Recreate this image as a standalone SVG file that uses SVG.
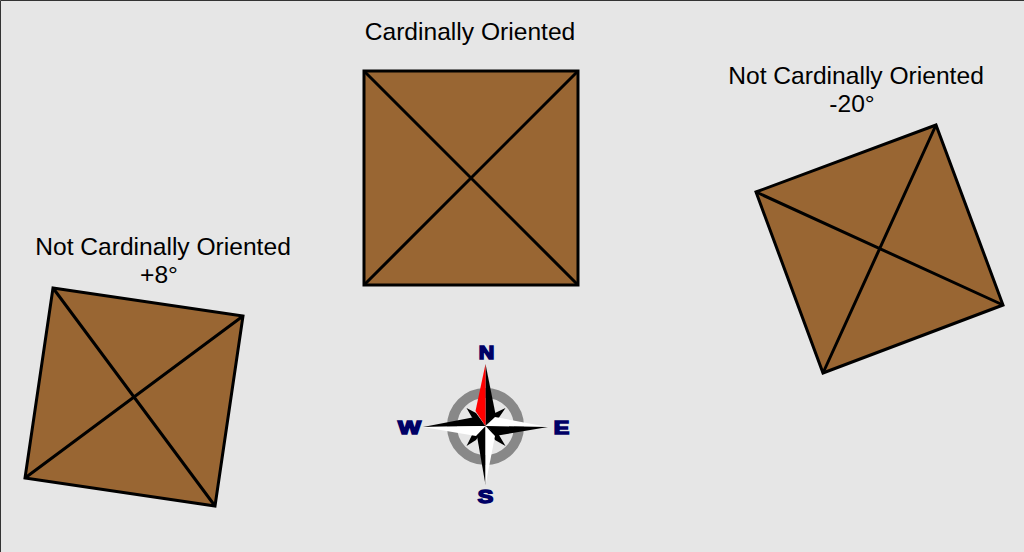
<svg xmlns="http://www.w3.org/2000/svg" width="1024" height="552" viewBox="0 0 1024 552">
<style>
.sq{fill:#996633;stroke:#000;stroke-width:3;stroke-linejoin:miter}
.d{stroke:#000;stroke-width:3;fill:none}
.t{font-family:"Liberation Sans",Arial,sans-serif;font-size:24.6px;fill:#000;text-anchor:middle}
.c{font-family:"Liberation Sans",Arial,sans-serif;font-size:18px;font-weight:bold;fill:#000066;text-anchor:middle;stroke:#000066;stroke-width:1.5}
</style>
<rect width="1024" height="552" fill="#e6e6e6"/>
<path d="M0.5 552V0.5H1024" fill="none" stroke="#333" stroke-width="1"/>
<g id="square-cardinal">
<path class="sq" d="M364 71H578V285H364Z"/>
<path class="d" d="M364 71L578 285M578 71L364 285"/>
<text class="t" x="470" y="40">Cardinally Oriented</text>
</g>
<g id="square-minus20">
<path class="sq" d="M756 192L936 125L1003 305L823 373Z"/>
<path class="d" d="M756 192L1003 305M936 125L823 373"/>
<text class="t" x="856" y="84">Not Cardinally Oriented</text>
<text class="t" x="852" y="112">-20°</text>
</g>
<g id="square-plus8">
<path class="sq" d="M53 288L243 316L215 506L25 478Z"/>
<path class="d" d="M53 288L215 506M243 316L25 478"/>
<text class="t" x="163" y="255">Not Cardinally Oriented</text>
<text class="t" x="159" y="283">+8°</text>
</g>
<g id="compass">
<circle cx="485.5" cy="426.5" r="33.5" fill="none" stroke="#888" stroke-width="10"/>
<path d="M466.5 408L476 413L485.5 426L472 417.5ZM505.5 408L499 417.5L485.5 426L495 413ZM505.5 446L495 440L485.5 426L499 435ZM466.5 446L472 435L485.5 426L476 440Z" fill="#000"/>
<path d="M485.5 364L495.5 414L485.5 426Z" fill="#000"/>
<path d="M485.5 364L475.5 411L485.5 426Z" fill="#f00"/>
<path d="M548 427L495 417L485.5 426Z" fill="#fff"/>
<path d="M548 427L498 435.5L485.5 426Z" fill="#000"/>
<path d="M485.5 485L477 436L485.5 426Z" fill="#000"/>
<path d="M485.5 485L495 436L485.5 426Z" fill="#fff"/>
<path d="M423 427L475 417L485.5 426Z" fill="#000"/>
<path d="M423 427L476 436L485.5 426Z" fill="#fff"/>
<text class="c" x="486.5" y="359" textLength="15.5" lengthAdjust="spacingAndGlyphs">N</text>
<text class="c" x="561.5" y="434" textLength="15.5" lengthAdjust="spacingAndGlyphs">E</text>
<text class="c" x="485.5" y="503" textLength="15.5" lengthAdjust="spacingAndGlyphs">S</text>
<text class="c" x="409.5" y="434" textLength="23" lengthAdjust="spacingAndGlyphs">W</text>
</g>
</svg>
